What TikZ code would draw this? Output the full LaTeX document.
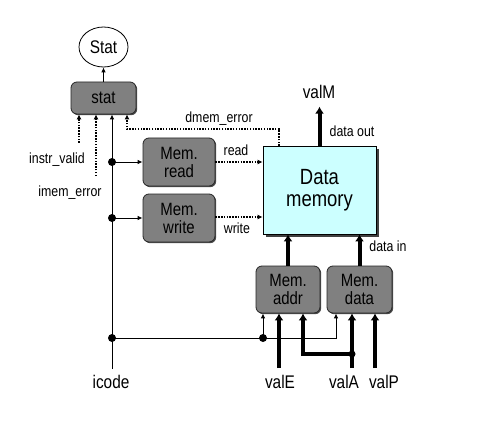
\documentclass[tikz,border=0pt]{standalone}
\usepackage{fontspec}
\setmainfont{Liberation Sans}[FakeStretch=0.84]
\usetikzlibrary{arrows.meta,shadows,shapes.geometric}
\definecolor{boxgray}{RGB}{128,128,128}
\definecolor{memcyan}{RGB}{204,255,255}
\begin{document}
\begin{tikzpicture}[x=1pt,y=-1pt,
  gbox/.style={draw=black!85, line width=0.8pt, fill=boxgray, rounded corners=6pt,
    align=center, inner sep=0pt, font=\fontsize{17.8}{18}\selectfont,
    drop shadow={shadow xshift=1.2pt, shadow yshift=-1.2pt, fill=black!70, opacity=1}},
  dmembox/.style={draw=black, line width=0.8pt, fill=memcyan, align=center, inner sep=0pt,
    font=\fontsize{22}{22}\selectfont,
    drop shadow={shadow xshift=2.5pt, shadow yshift=-2.5pt, fill=black!75, opacity=1}},
  ell/.style={draw, ellipse, line width=0.8pt, inner sep=0pt, font=\fontsize{18.3}{19}\selectfont},
  biglbl/.style={inner sep=0pt, anchor=base, font=\fontsize{18.3}{19}\selectfont},
  smalllbl/.style={inner sep=0pt, anchor=base, font=\fontsize{14.7}{16}\selectfont},
  junct/.style={circle, fill=black, inner sep=0pt, minimum size=8pt},
  tarr/.style={line width=0.9pt, -{Latex[length=5pt,width=4.5pt]}},
  tline/.style={line width=0.9pt},
  dotarr/.style={line width=1.8pt, dash pattern=on 1.5pt off 1.3pt, -{Latex[length=5pt,width=5pt]}},
  Tarr/.style={line width=4pt, -{Latex[length=7pt,width=9pt]}}
]
\useasboundingbox[fill=white] (0,0) rectangle (479,433);

% nodes
\node[ell, minimum width=49pt, minimum height=40pt] (Stat) at (103.5,47) {Stat};
\node[gbox, minimum width=65pt, minimum height=32pt] (stat) at (103.5,98) {stat};
\node[gbox, minimum width=72pt, minimum height=48pt] (mread) at (179,162) {Mem.\\read};
\node[gbox, minimum width=72pt, minimum height=48pt] (mwrite) at (179,218) {Mem.\\write};
\node[dmembox, minimum width=113pt, minimum height=88pt] (dmem) at (319.5,190) {Data\\memory};
\node[gbox, minimum width=64pt, minimum height=47pt] (maddr) at (288,289.5) {Mem.\\addr};
\node[gbox, minimum width=65pt, minimum height=47pt] (mdata) at (359.5,289.5) {Mem.\\data};

% labels
\node[biglbl] (licode) at (111,388) {icode};
\node[biglbl] (lvalE) at (280,388) {valE};
\node[biglbl] (lvalA) at (344,388) {valA};
\node[biglbl] (lvalP) at (384,388) {valP};
\node[biglbl] (lvalM) at (319,99) {valM};
\node[smalllbl] (ldout) at (352,137) {data out};
\node[smalllbl] (ldin) at (388,251) {data in};
\node[smalllbl] (lread) at (236,156) {read};
\node[smalllbl] (lwrite) at (237,233) {write};
\node[smalllbl] (ldmem) at (219,123) {dmem\_error};
\node[smalllbl] (linstr) at (57,163) {instr\_valid};
\node[smalllbl] (limem) at (70,196) {imem\_error};

% Stat
\draw[tarr] (stat.north) -- (Stat.south);

% icode line
\coordinate (icb) at (112,369);
\draw[tarr] (icb) -- (icb |- stat.south);
\node[junct] (j1) at (112,162) {};
\node[junct] (j2) at (112,218) {};
\node[junct] (j3) at (112,338) {};
\draw[tarr] (j1.center) -- (mread.west);
\draw[tarr] (j2.center) -- (mwrite.west);

% read / write
\draw[dotarr] (mread.east) -- (mread.east -| dmem.west);
\draw[dotarr] ([yshift=1pt]mwrite.east) -- ([yshift=1pt]mwrite.east -| dmem.west);

% instr_valid, imem_error
\coordinate (iv) at (79,143);
\draw[dotarr] (iv) -- (iv |- stat.south);
\coordinate (ie) at (96,176);
\draw[dotarr] (ie) -- (ie |- stat.south);

% dmem_error
\coordinate (de) at (279,146);
\draw[dotarr] (de) -- ++(0,-17) -| ([xshift=23.5pt]stat.south);

% valM
\draw[Tarr] (dmem.north) -- ++(0,-39);

% data paths
\draw[Tarr] (maddr.north) -- (maddr.north |- dmem.south);
\draw[Tarr] (mdata.north) -- (mdata.north |- dmem.south);

% bottom control line
\node[junct] (j4) at (263,338) {};
\draw[tline] (j3.center) -- (j4.center);
\draw[tarr] (j4.center) -- (j4 |- maddr.south);
\draw[tarr] (j4.center) -| ([xshift=-23.5pt]mdata.south);

% values
\coordinate (vE) at (279,368);
\coordinate (vA) at (352,368);
\coordinate (vP) at (375,368);
\draw[Tarr] (vE) -- (vE |- maddr.south);
\draw[Tarr] (vA) -- (vA |- mdata.south);
\draw[Tarr] (vP) -- (vP |- mdata.south);
\node[junct, minimum size=7pt] (j5) at (352,354) {};
\draw[Tarr] (j5.center) -| ([xshift=15pt]maddr.south);
\end{tikzpicture}
\end{document}
